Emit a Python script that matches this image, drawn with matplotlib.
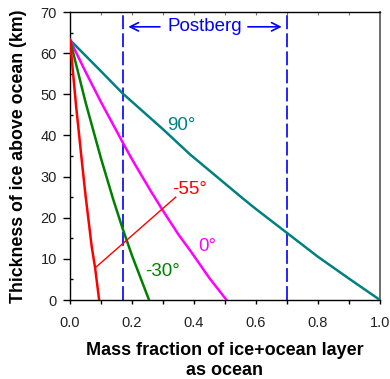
import matplotlib
matplotlib.use("Agg")
import matplotlib.pyplot as plt

plt.rcParams['font.family'] = ['Liberation Sans', 'DejaVu Sans']
plt.rcParams['lines.scale_dashes'] = False

# data
x_90 = [0.0, 0.1, 0.17, 0.3, 0.387, 0.5, 0.554, 0.6, 0.7, 0.8, 0.9, 1.0]
y_90 = [63.2, 55.6, 50.2, 41.5, 35.4, 28.3, 24.9, 22.1, 16.3, 10.5, 5.2, 0.0]
x_0 = [0.0, 0.05, 0.1, 0.17, 0.2, 0.258, 0.3, 0.35, 0.387, 0.45, 0.505]
y_0 = [63.2, 55.5, 48.1, 38.3, 34.2, 26.8, 21.7, 15.9, 12.1, 5.3, 0.0]
x_m30 = [0.0, 0.05, 0.1, 0.14, 0.17, 0.2, 0.255]
y_m30 = [63.2, 48.1, 34.4, 24.3, 17.3, 10.8, 0.0]
x_m55 = [0.0, 0.02, 0.038, 0.05, 0.07, 0.081, 0.094]
y_m55 = [63.2, 46.9, 33.9, 25.5, 13.0, 7.8, 0.0]
leader_x = [0.081, 0.341]
leader_y = [7.8, 25.0]
postberg_x = [0.17, 0.70]

labels = ["90°", "-55°", "0°", "-30°"]
label_x = [0.313, 0.328, 0.413, 0.242]
label_y = [42.5, 26.8, 12.9, 6.9]
colors = ['#008080', '#ff0000', '#ff00ff', '#008000']

fig = plt.figure(figsize=(3.9, 3.79), dpi=100)
ax = fig.add_axes([70/390, 1-300/379, 310/390, 288/379])

ax.plot(x_90, y_90, color='#008080', lw=1.8, zorder=3)
ax.plot(x_0, y_0, color='#ff00ff', lw=1.8, zorder=3)
ax.plot(x_m30, y_m30, color='#008000', lw=1.8, zorder=3)
ax.plot(x_m55, y_m55, color='#ff0000', lw=1.8, zorder=3)
ax.plot(leader_x, leader_y, color='#ff0000', lw=1.0, zorder=3)

for xv in postberg_x:
    ax.axvline(xv, color='#0000ff', lw=1.2, dashes=(10, 3.0), zorder=2)

for t, lx, ly, c in zip(labels, label_x, label_y, colors):
    ax.text(lx, ly, t, color=c, fontsize=13.5, ha='left', va='center')

ax.text(0.435, 66.4, "Postberg", color='#0000ff', fontsize=13.5, ha='center', va='center')
ax.annotate("", xy=(0.188, 66.4), xytext=(0.29, 66.4),
            arrowprops=dict(arrowstyle='->', color='#0000ff', lw=1.2,
                            shrinkA=0, shrinkB=0, mutation_scale=15))
ax.annotate("", xy=(0.683, 66.4), xytext=(0.574, 66.4),
            arrowprops=dict(arrowstyle='->', color='#0000ff', lw=1.2,
                            shrinkA=0, shrinkB=0, mutation_scale=15))

ax.set_xlim(0, 1.0)
ax.set_ylim(0, 70)
ax.set_xticks([0, 0.2, 0.4, 0.6, 0.8, 1.0])
ax.set_xticklabels(['0.0', '0.2', '0.4', '0.6', '0.8', '1.0'])
ax.set_xticks([0.1, 0.3, 0.5, 0.7, 0.9], minor=True)
ax.set_yticks(range(0, 71, 10))
ax.set_yticks(range(5, 70, 10), minor=True)

ax.tick_params(axis='x', which='both', direction='out', length=3.2, width=1.0,
               labelsize=10.5, pad=8, colors='black', labelcolor='#222222')
ax.tick_params(axis='y', which='major', direction='out', length=5, width=1.0,
               labelsize=10.5, pad=4.5, labelcolor='#222222')
ax.tick_params(axis='y', which='minor', direction='in', length=2.5, width=1.0)

top = ax.secondary_xaxis('top')
top.set_xticks([0.1 * i for i in range(1, 10)])
top.tick_params(direction='in', length=2, width=0.8, colors='#777777', labeltop=False)
top.spines['top'].set_visible(False)

for s in ['left', 'bottom', 'top']:
    ax.spines[s].set_linewidth(1.0)
    ax.spines[s].set_color('black')
ax.spines['right'].set_color('#555555')
ax.spines['right'].set_linewidth(1.2)

ax.set_xlabel("Mass fraction of ice+ocean layer\nas ocean", fontsize=13,
              fontweight='bold', linespacing=1.2, labelpad=9)
ax.set_ylabel("Thickness of ice above ocean (km)", fontsize=12.8,
              fontweight='bold', labelpad=10)

fig.savefig("out.png", dpi=100)
